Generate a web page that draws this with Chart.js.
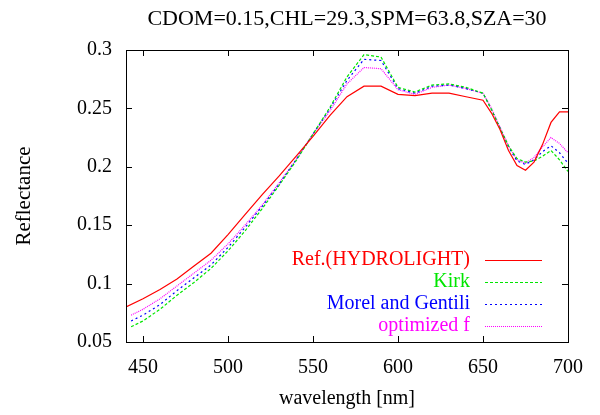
<!DOCTYPE html>
<html>
<head>
<meta charset="utf-8">
<script src="https://cdn.jsdelivr.net/npm/chart.js@4.4.1/dist/chart.umd.min.js"></script>
<style>
  html, body { margin: 0; padding: 0; background: #fff; }
  #wrap { width: 600px; height: 415px; }
</style>
</head>
<body>
<div id="wrap"><canvas id="chart" width="600" height="415"></canvas></div>
<script>
// wavelengths [nm]
const refWl = [440, 450, 460, 470, 480, 490, 500, 510, 520, 530, 540, 550, 560, 570, 580, 590, 600, 610, 620, 630, 640, 650, 655, 660, 665, 670, 675, 680, 685, 690, 695, 700];
const modelWl = [443, 450, 460, 470, 480, 490, 500, 510, 520, 530, 540, 550, 560, 570, 580, 590, 600, 610, 620, 630, 640, 650, 655, 660, 665, 670, 675, 680, 685, 690, 695, 700];

// reflectance values
const refHydrolight = [0.080, 0.087, 0.095, 0.104, 0.115, 0.126, 0.142, 0.159, 0.176, 0.192, 0.209, 0.226, 0.244, 0.260, 0.269, 0.269, 0.262, 0.261, 0.263, 0.263, 0.260, 0.257, 0.246, 0.232, 0.214, 0.201, 0.197, 0.204, 0.219, 0.238, 0.247, 0.247];
const kirk = [0.063, 0.068, 0.078, 0.090, 0.101, 0.113, 0.128, 0.145, 0.164, 0.184, 0.205, 0.228, 0.251, 0.277, 0.296, 0.294, 0.268, 0.264, 0.270, 0.271, 0.268, 0.263, 0.249, 0.233, 0.218, 0.207, 0.204, 0.205, 0.209, 0.214, 0.206, 0.196];
const morelGentili = [0.068, 0.073, 0.082, 0.094, 0.105, 0.116, 0.131, 0.148, 0.166, 0.185, 0.206, 0.228, 0.250, 0.274, 0.292, 0.291, 0.267, 0.263, 0.269, 0.270, 0.267, 0.263, 0.249, 0.233, 0.217, 0.205, 0.202, 0.206, 0.213, 0.218, 0.212, 0.203];
const optimizedF = [0.073, 0.078, 0.087, 0.098, 0.109, 0.120, 0.134, 0.150, 0.167, 0.186, 0.206, 0.228, 0.248, 0.271, 0.285, 0.284, 0.266, 0.262, 0.268, 0.270, 0.267, 0.263, 0.250, 0.234, 0.218, 0.206, 0.203, 0.208, 0.217, 0.225, 0.220, 0.212];

const xTicks = [450, 500, 550, 600, 650, 700];
const yTicks = [0.05, 0.1, 0.15, 0.2, 0.25, 0.3];
const yTickLabels = ['0.05', '0.1', '0.15', '0.2', '0.25', '0.3'];

const chartTitle = 'CDOM=0.15,CHL=29.3,SPM=63.8,SZA=30';
const serif = '"Liberation Serif", "Times New Roman", serif';

function pts(xs, ys) {
    return xs.map((x, i) => ({ x: x, y: ys[i] }));
}

const series = [
    { label: 'Ref.(HYDROLIGHT)', wl: refWl, values: refHydrolight, color: '#ff0000', dash: [] },
    { label: 'Kirk', wl: modelWl, values: kirk, color: '#00e600', dash: [3, 2] },
    { label: 'Morel and Gentili', wl: modelWl, values: morelGentili, color: '#0000ff', dash: [2, 3] },
    { label: 'optimized f', wl: modelWl, values: optimizedF, color: '#ff00ff', dash: [1, 1] }
];

// gnuplot-ish frame with inward ticks, title and the key in the lower right
const framePlugin = {
    id: 'frame',
    afterDatasetsDraw(chart) {
        const ctx = chart.ctx;
        const a = chart.chartArea;
        const xs = chart.scales.x, ys = chart.scales.y;
        ctx.save();
        ctx.strokeStyle = '#000';
        ctx.lineWidth = 1;
        ctx.setLineDash([]);
        ctx.strokeRect(a.left + 0.5, a.top + 0.5, a.right - a.left, a.bottom - a.top);
        const tl = 6;
        ctx.beginPath();
        xTicks.forEach(v => {
            const px = Math.round(xs.getPixelForValue(v)) + 0.5;
            ctx.moveTo(px, a.bottom); ctx.lineTo(px, a.bottom - tl);
            ctx.moveTo(px, a.top); ctx.lineTo(px, a.top + tl);
        });
        yTicks.forEach(v => {
            const py = Math.round(ys.getPixelForValue(v)) + 0.5;
            ctx.moveTo(a.left, py); ctx.lineTo(a.left + tl, py);
            ctx.moveTo(a.right, py); ctx.lineTo(a.right - tl, py);
        });
        ctx.stroke();

        // title, centred over the plot
        ctx.fillStyle = '#000';
        ctx.font = '22px ' + serif;
        ctx.textAlign = 'center';
        ctx.textBaseline = 'middle';
        ctx.fillText(chartTitle, (a.left + a.right) / 2, 19);

        // key
        ctx.font = '20px ' + serif;
        ctx.textAlign = 'right';
        const textRight = a.right - 98;
        const lineL = a.right - 83, lineR = a.right - 26;
        chart.data.datasets.forEach((ds, i) => {
            const y = a.bottom - 82 + i * 22;
            ctx.fillStyle = ds.borderColor;
            ctx.fillText(ds.label, textRight, y);
            ctx.strokeStyle = ds.borderColor;
            ctx.lineWidth = 1.2;
            ctx.setLineDash(ds.borderDash || []);
            ctx.beginPath();
            ctx.moveTo(lineL, Math.round(y) + 0.5);
            ctx.lineTo(lineR, Math.round(y) + 0.5);
            ctx.stroke();
        });
        ctx.restore();
    }
};

new Chart(document.getElementById('chart'), {
    type: 'line',
    data: {
        datasets: series.map(s => ({
            label: s.label,
            data: pts(s.wl, s.values),
            borderColor: s.color,
            backgroundColor: s.color,
            borderDash: s.dash,
            borderWidth: 1.2,
            pointRadius: 0,
            tension: 0,
            fill: false
        }))
    },
    options: {
        responsive: false,
        animation: false,
        layout: { padding: { top: 50, right: 32, left: 0, bottom: 0 } },
        plugins: {
            legend: { display: false },
            tooltip: { enabled: false },
            title: { display: false }
        },
        scales: {
            x: {
                type: 'linear',
                min: 440,
                max: 700,
                afterFit(scale) { scale.height = 73; },
                afterBuildTicks(scale) { scale.ticks = xTicks.map(v => ({ value: v })); },
                grid: { display: false, drawTicks: false },
                border: { display: false },
                ticks: {
                    color: '#000',
                    padding: 14,
                    maxRotation: 0,
                    font: { family: serif, size: 20 }
                },
                title: {
                    display: true,
                    text: 'wavelength [nm]',
                    color: '#000',
                    font: { family: serif, size: 20 },
                    padding: { top: 0, bottom: 4 }
                }
            },
            y: {
                min: 0.05,
                max: 0.3,
                afterFit(scale) { scale.width = 126; },
                afterBuildTicks(scale) { scale.ticks = yTicks.map(v => ({ value: v })); },
                grid: { display: false, drawTicks: false },
                border: { display: false },
                ticks: {
                    color: '#000',
                    padding: 14,
                    font: { family: serif, size: 20 },
                    callback: (v) => yTickLabels[yTicks.findIndex(t => Math.abs(t - v) < 1e-9)]
                },
                title: {
                    display: true,
                    text: 'Reflectance',
                    color: '#000',
                    font: { family: serif, size: 21 },
                    padding: { top: 12, bottom: 0 }
                }
            }
        }
    },
    plugins: [framePlugin]
});
</script>
</body>
</html>
